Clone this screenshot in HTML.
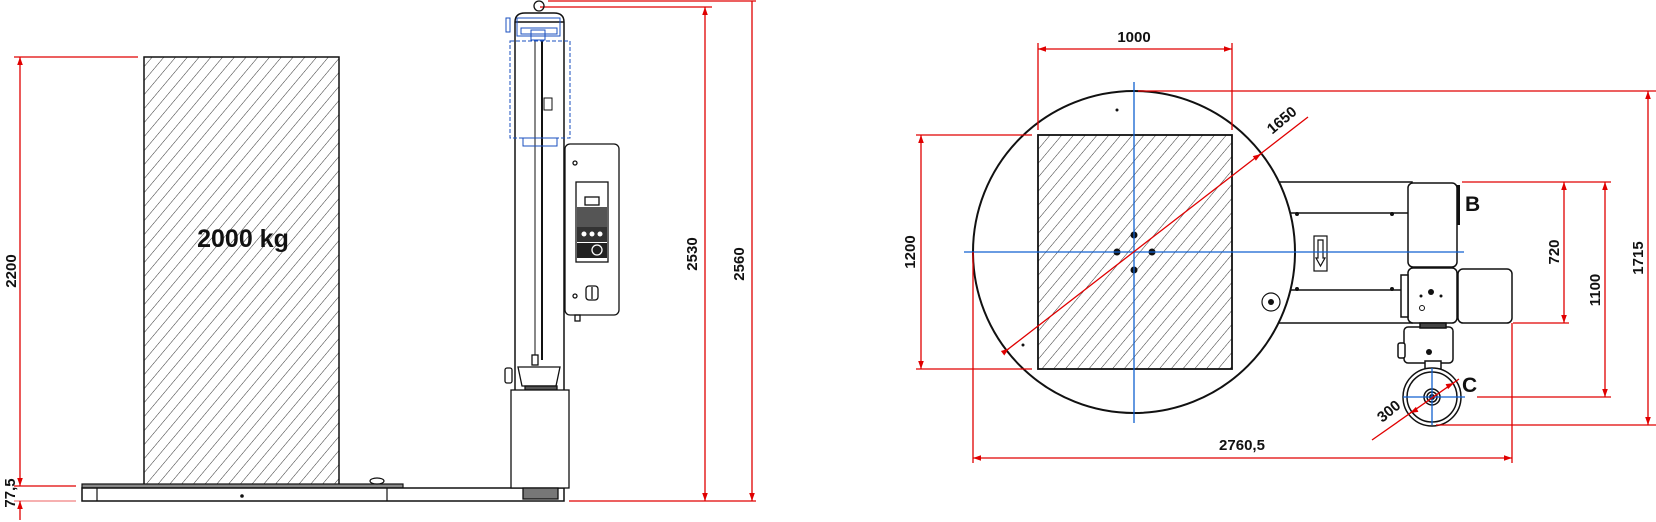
<!DOCTYPE html>
<html><head><meta charset="utf-8"><style>
html,body{margin:0;padding:0;background:#fff;}
svg{display:block;}
text{font-family:"Liberation Sans",Arial,sans-serif;}
</style></head><body>
<svg width="1656" height="522" viewBox="0 0 1656 522" xmlns="http://www.w3.org/2000/svg">
<defs>
<pattern id="h" width="9" height="9" patternUnits="userSpaceOnUse" patternTransform="rotate(40)">
<line x1="0" y1="0" x2="0" y2="9" stroke="#333" stroke-width="1"/>
</pattern>
<marker id="a" viewBox="0 0 10 10" refX="10" refY="5" markerWidth="10" markerHeight="8" orient="auto-start-reverse" markerUnits="userSpaceOnUse">
<path d="M0,1.5 L10,5 L0,8.5 z" fill="#e00000"/>
</marker>
</defs>

<!-- ============ LEFT VIEW ============ -->
<g stroke="#e00000" stroke-width="1.3" fill="none">
<line x1="14" y1="57" x2="138" y2="57"/>
<line x1="20" y1="57" x2="20" y2="486" marker-start="url(#a)" marker-end="url(#a)"/>
<line x1="14" y1="486" x2="76" y2="486"/>
<line x1="14" y1="501" x2="76" y2="501" stroke="#f08080"/>
<line x1="20" y1="501" x2="20" y2="520" marker-start="url(#a)"/>
<line x1="540" y1="7" x2="712" y2="7"/>
<line x1="548" y1="1" x2="756" y2="1"/>
<line x1="569" y1="501" x2="756" y2="501"/>
<line x1="705" y1="7" x2="705" y2="501" marker-start="url(#a)" marker-end="url(#a)"/>
<line x1="752" y1="1" x2="752" y2="501" marker-end="url(#a)"/>
</g>
<g font-size="15" font-weight="bold" fill="#111">
<text transform="translate(16,271) rotate(-90)" text-anchor="middle">2200</text>
<text transform="translate(15,493) rotate(-90)" text-anchor="middle">77,5</text>
<text transform="translate(697,254) rotate(-90)" text-anchor="middle">2530</text>
<text transform="translate(744,264) rotate(-90)" text-anchor="middle">2560</text>
</g>

<!-- load -->
<rect x="144" y="57" width="195" height="428" fill="url(#h)" stroke="#111" stroke-width="1.5"/>
<text x="243" y="247" font-size="25" font-weight="bold" text-anchor="middle" fill="#111">2000 kg</text>

<!-- base -->
<g stroke="#111" fill="none" stroke-width="1.2">
<rect x="82" y="484" width="321" height="4" fill="#888"/>
<rect x="82" y="488" width="482" height="13" fill="#fff" stroke-width="1.5"/>
<line x1="97" y1="488" x2="97" y2="501"/>
<line x1="387" y1="488" x2="387" y2="501"/>
<ellipse cx="377" cy="481" rx="7" ry="3" fill="#fff"/>
</g>
<circle cx="242" cy="496" r="1.8" fill="#111"/>

<!-- column -->
<g stroke="#111" fill="none" stroke-width="1.5">
<path d="M515,390 L515,22 Q515,13 525,13 L554,13 Q564,13 564,22 L564,390"/>
<line x1="515" y1="22" x2="564" y2="22"/>
<line x1="535" y1="40" x2="535" y2="360" stroke-width="1"/>
<line x1="542" y1="40" x2="542" y2="360" stroke-width="2"/>
<rect x="544" y="98" width="8" height="12" stroke-width="1"/>
<circle cx="539" cy="6" r="5" stroke-width="1.3"/>
</g>
<g stroke="#1a4fbf" fill="none" stroke-width="1">
<rect x="510" y="41" width="60" height="97" stroke-dasharray="4,2"/>
<rect x="517" y="18" width="43" height="18"/>
<rect x="521" y="28" width="36" height="6"/>
<rect x="506" y="18" width="4" height="14"/>
<rect x="523" y="138" width="34" height="8"/>
<rect x="531" y="30" width="14" height="10"/>
</g>

<!-- control panel -->
<g stroke="#111" fill="none" stroke-width="1.3">
<rect x="565" y="144" width="54" height="171" rx="5" fill="#fff"/>
<rect x="576" y="182" width="32" height="80" fill="#fff"/>
<rect x="585" y="197" width="14" height="8"/>
<rect x="577" y="207" width="30" height="20" fill="#555" stroke="none"/>
<rect x="577" y="227" width="30" height="15" fill="#333" stroke="none"/>
<rect x="577" y="243" width="30" height="15" fill="#222" stroke="none"/>
<circle cx="597" cy="250" r="5" stroke="#fff"/>
<circle cx="575" cy="163" r="2"/>
<circle cx="575" cy="296" r="2"/>
<rect x="586" y="286" width="12" height="14" rx="3"/>
<line x1="592" y1="287" x2="592" y2="299"/>
<rect x="575" y="315" width="5" height="6"/>
</g>
<g fill="#fff"><circle cx="584" cy="234" r="2.5"/><circle cx="592" cy="234" r="2.5"/><circle cx="600" cy="234" r="2.5"/></g>

<!-- carriage + motor -->
<g stroke="#111" fill="#fff" stroke-width="1.3">
<rect x="532" y="355" width="6" height="10"/>
<path d="M518,367 L560,367 L556,386 L522,386 Z"/>
<rect x="505" y="368" width="7" height="15" rx="2"/>
<rect x="525" y="386" width="32" height="4" fill="#555"/>
<rect x="511" y="390" width="58" height="98"/>
<rect x="523" y="488" width="35" height="11" fill="#777"/>
</g>

<!-- ============ RIGHT VIEW ============ -->
<g stroke="#111" fill="#fff" stroke-width="1.5">
<rect x="1262" y="182" width="150" height="141"/>
<line x1="1291" y1="213" x2="1408" y2="213"/>
<line x1="1291" y1="290" x2="1404" y2="290"/>
</g>
<circle cx="1134" cy="252" r="161" fill="#fff" stroke="#111" stroke-width="2"/>
<rect x="1038" y="135" width="194" height="234" fill="url(#h)" stroke="#111" stroke-width="1.8"/>
<g fill="#111"><circle cx="1297" cy="214" r="2"/><circle cx="1392" cy="214" r="2"/><circle cx="1297" cy="289" r="2"/><circle cx="1392" cy="289" r="2"/>
<circle cx="1134" cy="235" r="3.5"/><circle cx="1134" cy="270" r="3.5"/><circle cx="1117" cy="252" r="3.5"/><circle cx="1152" cy="252" r="3.5"/>
<circle cx="1117" cy="110" r="1.5"/><circle cx="1023" cy="345" r="1.5"/></g>
<circle cx="1271" cy="302" r="9" fill="none" stroke="#111" stroke-width="1.2"/>
<circle cx="1271" cy="302" r="3" fill="#111"/>
<g stroke="#111" fill="none" stroke-width="1.2">
<rect x="1314" y="236" width="13" height="35"/>
<path d="M1318,240 L1318,258 L1316,258 L1320.5,266 L1325,258 L1323,258 L1323,240 Z"/>
</g>
<g stroke="#111" fill="#fff" stroke-width="1.5">
<rect x="1408" y="183" width="49" height="84" rx="5"/>
<rect x="1408" y="268" width="49" height="55" rx="5"/>
<rect x="1458" y="269" width="54" height="54" rx="5"/>
<rect x="1401" y="275" width="7" height="42"/>
<rect x="1404" y="327" width="49" height="36" rx="4"/>
<rect x="1398" y="343" width="7" height="15" rx="2"/>
<rect x="1420" y="323" width="26" height="5" fill="#444"/>
<rect x="1425" y="361" width="16" height="8"/>
<circle cx="1432" cy="397" r="29"/>
<circle cx="1432" cy="397" r="25"/>
<circle cx="1432" cy="397" r="8"/>
<circle cx="1432" cy="397" r="5"/>
</g>
<circle cx="1432" cy="397" r="3" fill="#111"/>
<g fill="#111"><circle cx="1431" cy="292" r="3"/><circle cx="1421" cy="296" r="1.5"/><circle cx="1441" cy="296" r="1.5"/>
<circle cx="1429" cy="352" r="3"/></g>
<circle cx="1422" cy="308" r="2.5" fill="none" stroke="#111"/>
<rect x="1457" y="185" width="3" height="40" fill="#111"/>

<g stroke="#1060d0" stroke-width="1.3">
<line x1="964" y1="252" x2="1464" y2="252"/>
<line x1="1134" y1="82" x2="1134" y2="423"/>
<line x1="1403" y1="397" x2="1465" y2="397"/>
<line x1="1432" y1="368" x2="1432" y2="425"/>
</g>

<g stroke="#e00000" stroke-width="1.3" fill="none">
<line x1="1038" y1="43" x2="1038" y2="130"/>
<line x1="1232" y1="43" x2="1232" y2="130"/>
<line x1="1038" y1="49" x2="1232" y2="49" marker-start="url(#a)" marker-end="url(#a)"/>
<line x1="916" y1="135" x2="1032" y2="135"/>
<line x1="916" y1="369" x2="1032" y2="369"/>
<line x1="921" y1="135" x2="921" y2="369" marker-start="url(#a)" marker-end="url(#a)"/>
<line x1="1007" y1="350" x2="1308" y2="117"/>
<line x1="1007" y1="350" x2="1009" y2="348.5" marker-end="url(#a)"/>
<line x1="1255" y1="158" x2="1261" y2="154" marker-end="url(#a)"/>
<line x1="1138" y1="91" x2="1656" y2="91"/>
<line x1="1436" y1="425" x2="1656" y2="425"/>
<line x1="1648" y1="91" x2="1648" y2="425" marker-start="url(#a)" marker-end="url(#a)"/>
<line x1="1462" y1="182" x2="1611" y2="182"/>
<line x1="1513" y1="323" x2="1569" y2="323"/>
<line x1="1564" y1="182" x2="1564" y2="323" marker-start="url(#a)" marker-end="url(#a)"/>
<line x1="1477" y1="397" x2="1611" y2="397"/>
<line x1="1605" y1="182" x2="1605" y2="397" marker-start="url(#a)" marker-end="url(#a)"/>
<line x1="973" y1="252" x2="973" y2="463"/>
<line x1="1512" y1="323" x2="1512" y2="463"/>
<line x1="973" y1="458" x2="1512" y2="458" marker-start="url(#a)" marker-end="url(#a)"/>
<line x1="1372" y1="440" x2="1459" y2="379"/>
<line x1="1410" y1="413" x2="1412" y2="412" marker-start="url(#a)"/>
<line x1="1452" y1="384" x2="1454" y2="383" marker-end="url(#a)"/>
</g>
<g font-size="15" font-weight="bold" fill="#111">
<text x="1134" y="42" text-anchor="middle">1000</text>
<text transform="translate(915,252) rotate(-90)" text-anchor="middle">1200</text>
<text transform="translate(1285,124) rotate(-40)" text-anchor="middle">1650</text>
<text transform="translate(1559,252) rotate(-90)" text-anchor="middle">720</text>
<text transform="translate(1600,290) rotate(-90)" text-anchor="middle">1100</text>
<text transform="translate(1643,258) rotate(-90)" text-anchor="middle">1715</text>
<text x="1242" y="450" text-anchor="middle">2760,5</text>
<text transform="translate(1392,415) rotate(-40)" text-anchor="middle">300</text>
<text x="1465" y="211" font-size="21">B</text>
<text x="1462" y="392" font-size="21">C</text>
</g>
</svg>
</body></html>
